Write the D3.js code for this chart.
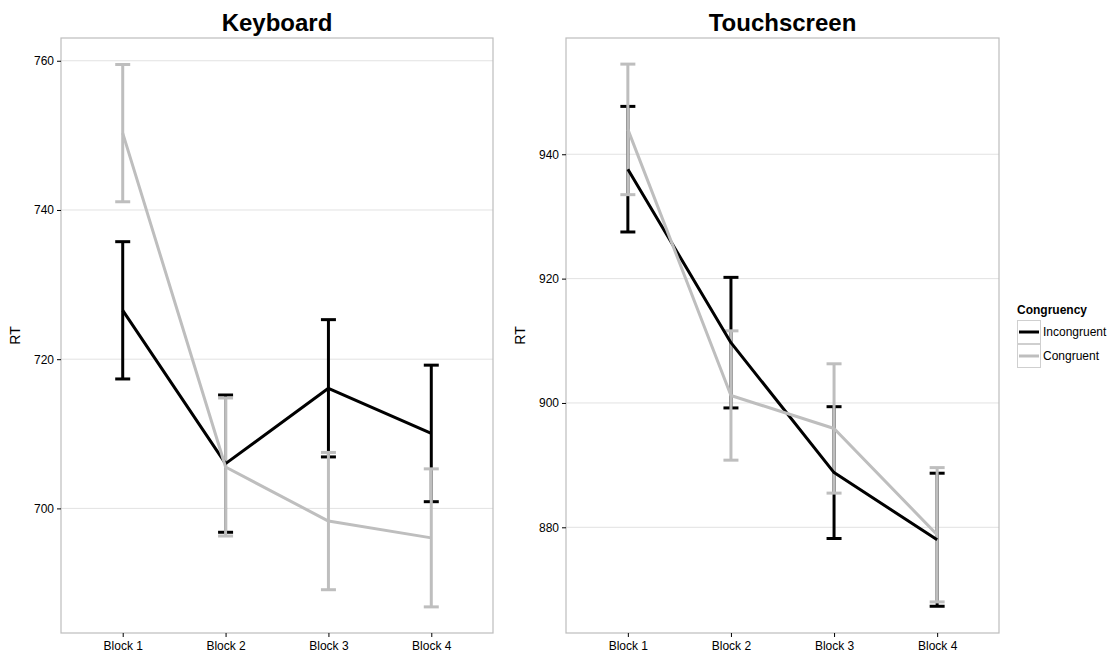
<!DOCTYPE html>
<html>
<head>
<meta charset="utf-8">
<script src="https://cdn.jsdelivr.net/npm/d3@7"></script>
<style>
body{margin:0;background:#fff}
svg{font-family:"Liberation Sans",Arial,sans-serif}
</style>
</head>
<body>
<svg id="chart" width="1113" height="659"></svg>
<script>
var blocks = ["Block 1","Block 2","Block 3","Block 4"]
var groups = ["Incongruent","Congruent"]
var groupColor = {"Incongruent":"#000000","Congruent":"#bebebe"}

// Keyboard panel: means and error half-widths
var kbIncMean = [726.55, 706.0, 716.1, 710.05]
var kbIncErr = [9.2, 9.2, 9.2, 9.15]
var kbConMean = [750.3, 705.55, 698.3, 696.05]
var kbConErr = [9.2, 9.25, 9.2, 9.25]
var kbTicks = [700, 720, 740, 760]
var kbDomain = [683.3, 763.05]

// Touchscreen panel
var tsIncMean = [937.6, 909.7, 888.8, 878.0]
var tsIncErr = [10.1, 10.5, 10.6, 10.7]
var tsConMean = [944.0, 901.2, 895.9, 878.8]
var tsConErr = [10.5, 10.4, 10.4, 10.8]
var tsTicks = [880, 900, 920, 940]
var tsDomain = [863.0, 958.7]

var svg = d3.select("#chart")
var top_y = 38, bottom_y = 633

function toRows(means, errs){
    return means.map((m,i) => ({block: blocks[i], mean: m, lo: m-errs[i], hi: m+errs[i]}))
}

function drawPanel(x0, x1, title, domain, ticks, series){
    var g = svg.append("g")
    var x = d3.scalePoint().domain(blocks).range([x0, x1]).padding(0.6)
    var y = d3.scaleLinear().domain(domain).range([bottom_y, top_y])

    g.append("rect").attr("x", x0).attr("y", top_y).attr("width", x1-x0).attr("height", bottom_y-top_y).attr("fill", "#fff")
    // horizontal grid
    g.selectAll(".grid").data(ticks).join("line").attr("class","grid")
        .attr("x1", x0).attr("x2", x1).attr("y1", d=>y(d)).attr("y2", d=>y(d))
        .attr("stroke", "#e2e2e2").attr("stroke-width", 1)

    // error bars
    series.forEach(s => {
        var eb = g.append("g")
        eb.selectAll("line.v").data(s.rows).join("line").attr("class","v")
            .attr("x1", d=>x(d.block)).attr("x2", d=>x(d.block)).attr("y1", d=>y(d.lo)).attr("y2", d=>y(d.hi))
            .attr("stroke", groupColor[s.name]).attr("stroke-width", 3)
        eb.selectAll("line.cap").data(s.rows.flatMap(d=>[{b:d.block,v:d.lo},{b:d.block,v:d.hi}])).join("line").attr("class","cap")
            .attr("x1", d=>x(d.b)-7.5).attr("x2", d=>x(d.b)+7.5).attr("y1", d=>y(d.v)).attr("y2", d=>y(d.v))
            .attr("stroke", groupColor[s.name]).attr("stroke-width", 3)
    })
    // lines
    var line = d3.line().x(d=>x(d.block)).y(d=>y(d.mean))
    series.forEach(s => {
        g.append("path").datum(s.rows).attr("d", line).attr("fill","none")
            .attr("stroke", groupColor[s.name]).attr("stroke-width", 3).attr("stroke-linejoin","round")
    })

    g.append("rect").attr("x", x0).attr("y", top_y).attr("width", x1-x0).attr("height", bottom_y-top_y)
        .attr("fill", "none").attr("stroke", "#bdbdbd").attr("stroke-width", 1.2)

    // axes
    var ya = g.append("g").attr("transform","translate("+x0+",0)")
        .call(d3.axisLeft(y).tickValues(ticks).tickSize(4).tickPadding(3))
    ya.select(".domain").remove()
    ya.selectAll("text").attr("font-size", 12).attr("fill", "#000").attr("font-family", "Liberation Sans, Arial, sans-serif")
    ya.selectAll("line").attr("stroke", "#000")
    var xa = g.append("g").attr("transform","translate(0,"+bottom_y+")")
        .call(d3.axisBottom(x).tickSize(4).tickPadding(4))
    xa.select(".domain").remove()
    xa.selectAll("text").attr("font-size", 12).attr("fill", "#000").attr("font-family", "Liberation Sans, Arial, sans-serif")
    xa.selectAll("line").attr("stroke", "#000")

    g.append("text").attr("x", (x0+x1)/2).attr("y", 31).attr("text-anchor","middle")
        .attr("font-size", 24).attr("font-weight","bold").text(title)
    g.append("text").attr("transform","translate("+(x0-41)+","+((top_y+bottom_y)/2)+") rotate(-90)")
        .attr("text-anchor","middle").attr("font-size", 14).text("RT")
}

drawPanel(61, 493, "Keyboard", kbDomain, kbTicks, [
    {name:"Incongruent", rows: toRows(kbIncMean, kbIncErr)},
    {name:"Congruent", rows: toRows(kbConMean, kbConErr)}
])
drawPanel(566, 999, "Touchscreen", tsDomain, tsTicks, [
    {name:"Incongruent", rows: toRows(tsIncMean, tsIncErr)},
    {name:"Congruent", rows: toRows(tsConMean, tsConErr)}
])

// legend
var lg = svg.append("g").attr("transform","translate(1017,300)")
lg.append("text").attr("x", 0).attr("y", 14).attr("font-size", 12).attr("font-weight","bold").text("Congruency")
var items = lg.selectAll(".item").data(groups).join("g").attr("class","item")
    .attr("transform", (d,i)=>"translate(0,"+(20+i*24)+")")
items.append("rect").attr("x",0.5).attr("y",0.5).attr("width",23).attr("height",23).attr("fill","#fff").attr("stroke","#cfcfcf")
items.append("line").attr("x1",2).attr("x2",22).attr("y1",12).attr("y2",12).attr("stroke",d=>groupColor[d]).attr("stroke-width",3)
items.append("text").attr("x",26).attr("y",16).attr("font-size",12).text(d=>d)
</script>
</body>
</html>
